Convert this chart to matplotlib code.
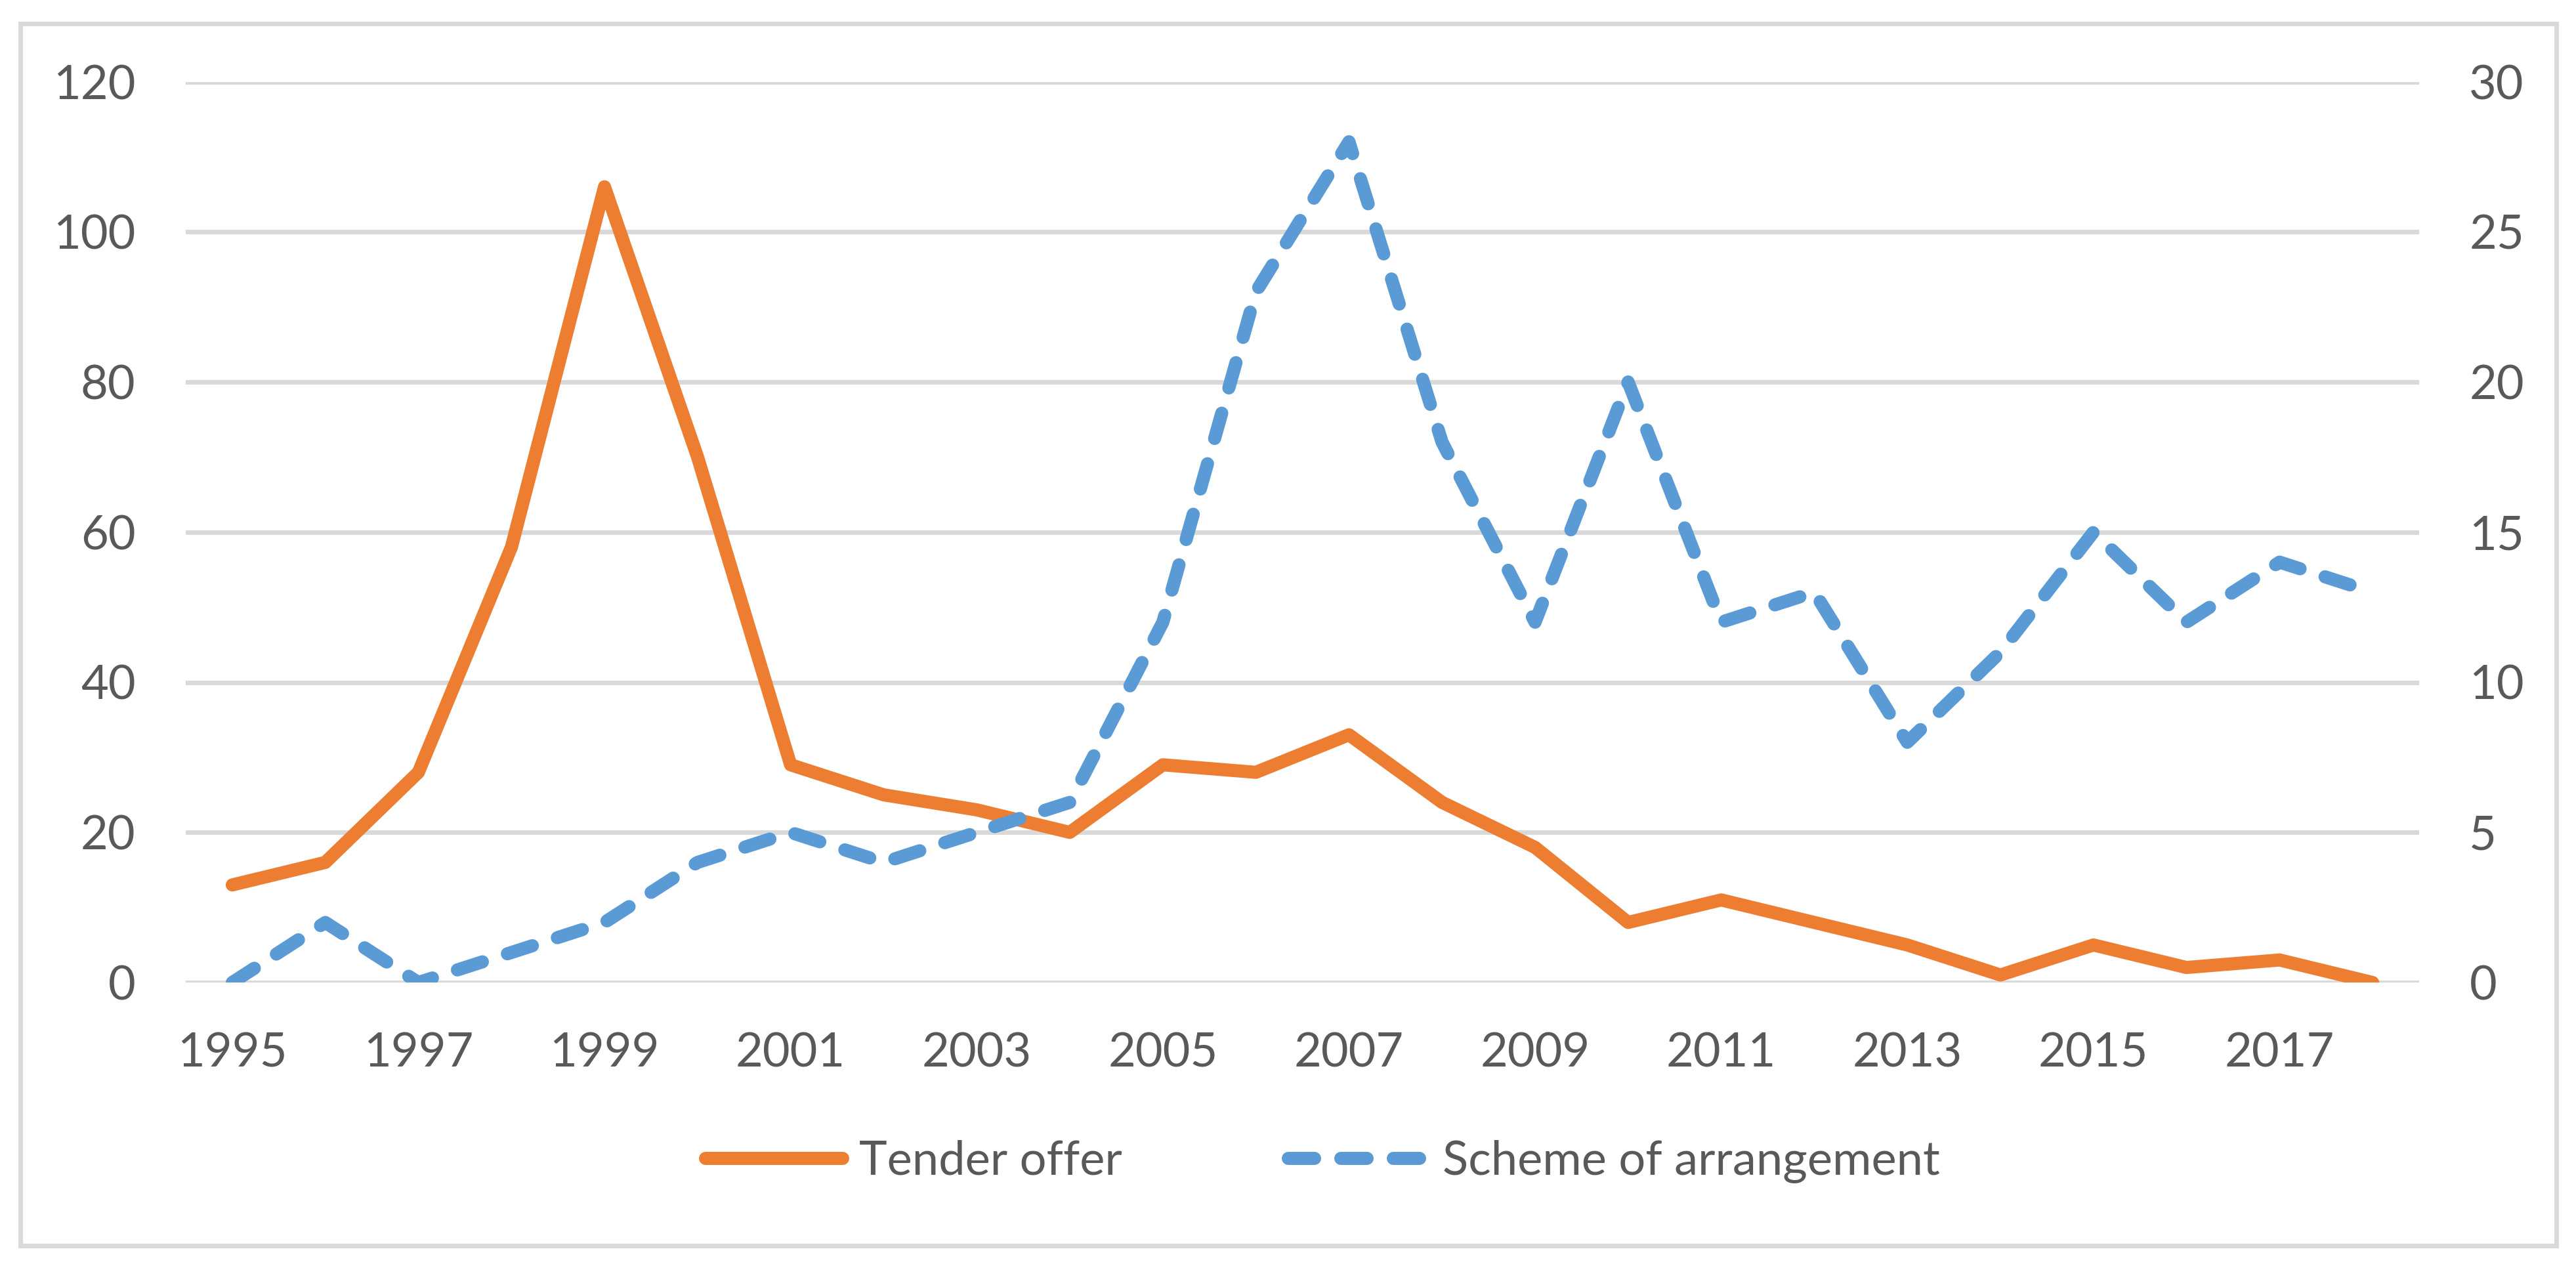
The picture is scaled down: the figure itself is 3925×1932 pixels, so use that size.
import matplotlib
matplotlib.use("Agg")
import matplotlib.pyplot as plt
from matplotlib.patches import Rectangle

# ---- data ----
years = list(range(1995, 2019))
tender_offer = [13, 16, 28, 58, 106, 70, 29, 25, 23, 20, 29, 28, 33, 24, 18, 8, 11, 8, 5, 1, 5, 2, 3, 0]
scheme_of_arrangement = [0, 2, 0, 1, 2, 4, 5, 4, 5, 6, 12, 23, 28, 18, 12, 20, 12, 13, 8, 11, 15, 12, 14, 13]
left_ticks = [0, 20, 40, 60, 80, 100, 120]
right_ticks = [0, 5, 10, 15, 20, 25, 30]
xtick_years = [1995, 1997, 1999, 2001, 2003, 2005, 2007, 2009, 2011, 2013, 2015, 2017]
series_names = ["Tender offer", "Scheme of arrangement"]

# ---- style ----
W, H, DPI = 3925, 1932, 100
ORANGE = "#ED7D31"
BLUE = "#5B9BD5"
GRID = "#D9D9D9"
TXT = "#595959"
FS = 52
LW = 14.4

plt.rcParams["font.family"] = ["Lato", "DejaVu Sans"]

fig = plt.figure(figsize=(W / DPI, H / DPI), dpi=DPI)
fig.patch.set_facecolor("white")

ax = fig.add_axes([283 / W, 1 - 1497 / H, (3686 - 283) / W, (1497 - 124.5) / H])
ax2 = ax.twinx()

l1, = ax.plot(years, tender_offer, color=ORANGE, lw=LW, solid_capstyle="round",
              solid_joinstyle="round", label=series_names[0])
l2, = ax2.plot(years, scheme_of_arrangement, color=BLUE, lw=LW, linestyle=(0, (2, 2)),
               dash_capstyle="round", dash_joinstyle="round", label=series_names[1])

ax.set_xlim(1994.5, 2018.5)
ax.set_ylim(0, 120)
ax2.set_ylim(0, 30)
ax.set_yticks(left_ticks)
ax2.set_yticks(right_ticks)
ax.set_xticks(xtick_years)
ax.set_xticklabels([str(y) for y in xtick_years])

ax.grid(axis="y", color=GRID, lw=5.0)
ax.grid(axis="x", visible=False)
ax.set_axisbelow(True)

for a in (ax, ax2):
    for s in a.spines.values():
        s.set_visible(False)
    a.tick_params(length=0, labelsize=FS, labelcolor=TXT)
ax.tick_params(axis="y", pad=55)
ax.tick_params(axis="x", pad=54)
ax2.tick_params(axis="y", pad=55)

leg = fig.legend(handles=[l1, l2], labels=series_names, loc="center",
                 bbox_to_anchor=(2015 / W, 1 - 1770 / H), ncol=2, frameon=False,
                 fontsize=FS, handlelength=2.9, handletextpad=0.35, columnspacing=3.5,
                 labelcolor=TXT)

fig.patches.append(Rectangle((31 / W, 1 - 1898 / H), (3895 - 31) / W, (1898 - 36) / H,
                             transform=fig.transFigure, fill=False,
                             edgecolor=GRID, lw=5.0))

fig.savefig("out.png", dpi=DPI)
